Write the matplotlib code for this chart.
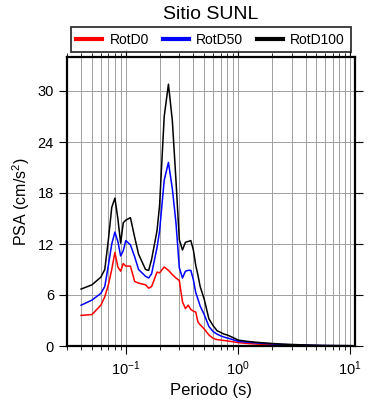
import numpy as np
from matplotlib import pyplot as plt
from matplotlib.ticker import LogLocator, FixedLocator, NullFormatter
from matplotlib.lines import Line2D

plt.rcParams['font.family'] = ['Liberation Sans', 'DejaVu Sans']
plt.rcParams['mathtext.fontset'] = 'custom'
plt.rcParams['mathtext.rm'] = 'Liberation Sans'

# Periods (s) and spectral accelerations (cm/s^2)
periodo = [0.04, 0.05, 0.06, 0.065, 0.07, 0.075, 0.08, 0.085, 0.09, 0.095,
           0.1, 0.11, 0.12, 0.13, 0.15, 0.16, 0.17, 0.19, 0.2, 0.22,
           0.24, 0.26, 0.28, 0.30, 0.32, 0.34, 0.36, 0.38, 0.40, 0.42,
           0.44, 0.46, 0.50, 0.55, 0.60, 0.65, 0.70, 0.75, 0.80, 0.85,
           0.90, 0.95, 1.0, 1.2, 1.5, 2.0, 2.5, 3.0, 4.0, 5.0,
           6.0, 7.5, 10.0]

rotd100 = [6.7, 7.2, 8.1, 9.0, 12.5, 16.3, 17.4, 15.0, 12.1, 14.5,
           14.8, 15.1, 12.8, 10.8, 9.0, 8.9, 10.2, 13.6, 16.5, 27.0,
           30.8, 26.5, 19.5, 12.5, 11.3, 12.2, 12.3, 12.4, 11.3, 9.5,
           8.3, 7.0, 5.5, 3.2, 2.4, 1.8, 1.6, 1.4, 1.3, 1.15,
           1.0, 0.85, 0.7, 0.55, 0.42, 0.3, 0.22, 0.18, 0.12, 0.08,
           0.06, 0.05, 0.04]

rotd50 = [4.8, 5.4, 6.2, 7.0, 9.5, 12.0, 13.4, 12.3, 10.6, 11.2,
          12.4, 11.9, 10.5, 9.0, 8.2, 8.0, 8.5, 11.6, 13.5, 19.5,
          21.6, 18.5, 14.5, 9.2, 8.0, 8.8, 8.9, 8.9, 7.8, 6.3,
          5.5, 4.7, 3.7, 2.3, 1.7, 1.4, 1.2, 1.05, 0.95, 0.85,
          0.75, 0.65, 0.55, 0.45, 0.35, 0.25, 0.18, 0.14, 0.1, 0.07,
          0.05, 0.04, 0.03]

rotd0 = [3.6, 3.7, 4.8, 5.8, 7.2, 9.0, 11.0, 9.3, 8.8, 9.7,
         9.4, 9.4, 7.6, 7.4, 7.2, 6.8, 7.0, 8.7, 8.6, 9.3,
         8.9, 8.4, 8.0, 7.7, 5.2, 4.4, 4.8, 4.3, 4.1, 4.0,
         2.8, 2.5, 2.0, 1.3, 0.9, 0.75, 0.7, 0.65, 0.6, 0.55,
         0.5, 0.45, 0.4, 0.3, 0.22, 0.15, 0.1, 0.08, 0.06, 0.04,
         0.03, 0.03, 0.02]

series = [('RotD0', rotd0, 'red'), ('RotD50', rotd50, 'blue'), ('RotD100', rotd100, 'black')]

fig = plt.figure(figsize=(3.9, 4.0), dpi=100)
ax = fig.add_axes([0.172, 0.135, 0.738, 0.7225])

for name, vals, col in series:
    ax.plot(periodo, vals, color=col, lw=1.1)

ax.set_xscale('log')
ax.set_xlim(0.03, 11)
ax.set_ylim(0, 34)
ax.yaxis.set_major_locator(FixedLocator([0, 6, 12, 18, 24, 30]))
ax.xaxis.set_major_locator(LogLocator(base=10, numticks=10))
ax.xaxis.set_minor_locator(LogLocator(base=10, subs=np.arange(2, 10), numticks=20))
ax.xaxis.set_minor_formatter(NullFormatter())

ax.grid(True, which='both', axis='x', color='#a0a0a0', lw=0.7)
ax.grid(True, which='major', axis='y', color='#a0a0a0', lw=0.7)
ax.set_axisbelow(True)

ax.tick_params(which='major', direction='out', length=6, width=0.8,
               top=True, right=True, labelsize=10.5)
ax.tick_params(which='minor', direction='out', length=3, width=0.6, top=True)
for s in ax.spines.values():
    s.set_linewidth(1.6)

ax.set_xlabel('Periodo (s)', fontsize=12)
ax.set_ylabel('PSA (cm/s$^2$)', fontsize=11.5)
fig.text(0.541, 0.963, 'Sitio SUNL', ha='center', va='center', fontsize=14)

handles = [Line2D([], [], color=c, lw=3) for _, _, c in series]
leg = fig.legend(handles, [n for n, _, _ in series], ncol=3,
                 loc='center', bbox_to_anchor=(0.540, 0.901),
                 fancybox=False, edgecolor='black', fontsize=10,
                 handlelength=1.9, borderpad=0.4, handletextpad=0.5,
                 columnspacing=1.0, borderaxespad=0)
leg.get_frame().set_linewidth(1.3)

fig.savefig('out.png', dpi=100)
